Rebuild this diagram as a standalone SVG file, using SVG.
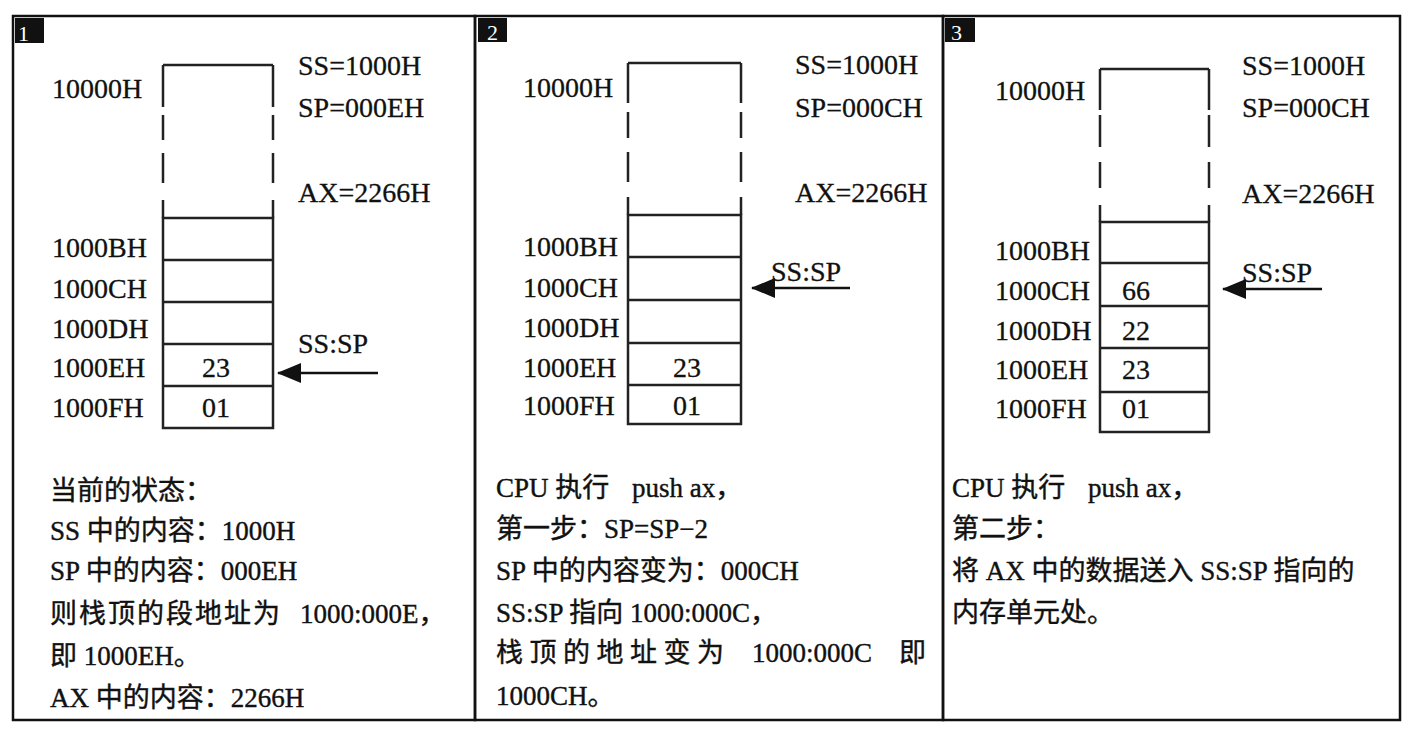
<svg xmlns="http://www.w3.org/2000/svg" width="1412" height="734" viewBox="0 0 1412 734">
<defs>
<style>
.frame{fill:none;stroke:#111;stroke-width:2.5}
.badge{fill:#111}
.bnum{font-family:"Liberation Serif",serif;font-size:22px;fill:#fff}
.cell{fill:none;stroke:#222;stroke-width:2.5}
.lbl{font-family:"Liberation Serif","Noto Sans CJK SC",serif;font-size:28px;fill:#111;stroke:#111;stroke-width:0.3}
.val{font-family:"Liberation Serif",serif;font-size:28px;fill:#111;stroke:#111;stroke-width:0.3}
.mid{text-anchor:middle}
.txt{font-family:"Liberation Serif","Noto Sans CJK SC",serif;font-size:27px;fill:#111;stroke:#111;stroke-width:0.4}
.arr{stroke:#111;stroke-width:2.5;fill:none}
</style>
<marker id="ahb" viewBox="0 0 24 20" refX="23" refY="10" markerWidth="24" markerHeight="20" markerUnits="userSpaceOnUse" orient="auto">
<path d="M0,0 L24,10 L0,20 z" fill="#111"/>
</marker>
</defs>
<rect width="1412" height="734" fill="#fff"/>

<g id="panel1">
<rect class="frame" x="13" y="16" width="462" height="704"/>
<rect class="badge" x="15" y="18" width="29" height="25"/>
<text class="bnum" x="18" y="41">1</text>
<path class="cell" d="M163,65 H273 M163,65 V107 M163,115 V140 M163,153 V183 M163,200 V218 M273,65 V107 M273,115 V140 M273,153 V183 M273,200 V218"/>
<rect class="cell" x="163" y="218" width="110" height="210"/>
<path class="cell" d="M163,260 H273 M163,302 H273 M163,344 H273 M163,386 H273"/>
<text class="lbl" x="52" y="98">10000H</text>
<text class="lbl" x="298" y="75">SS=1000H</text>
<text class="lbl" x="298" y="117">SP=000EH</text>
<text class="lbl" x="298" y="202">AX=2266H</text>
<text class="lbl" x="52" y="257">1000BH</text>
<text class="lbl" x="52" y="298">1000CH</text>
<text class="lbl" x="52" y="338">1000DH</text>
<text class="lbl" x="52" y="377">1000EH</text>
<text class="lbl" x="52" y="417">1000FH</text>
<text class="val mid" x="216" y="377">23</text>
<text class="val mid" x="216" y="417">01</text>
<text class="lbl" x="298" y="353">SS:SP</text>
<text class="txt" x="50" y="500">当前的状态：</text>
<text class="txt" x="50" y="540">SS 中的内容：1000H</text>
<text class="txt" x="50" y="580">SP 中的内容：000EH</text>
<text class="txt" x="50" y="623" letter-spacing="2">则栈顶的段地址为</text>
<text class="txt" x="300" y="623">1000:000E，</text>
<text class="txt" x="50" y="665">即 1000EH。</text>
<text class="txt" x="50" y="707">AX 中的内容：2266H</text>
</g>

<g id="panel2">
<rect class="frame" x="475" y="16" width="468" height="704"/>
<rect class="badge" x="478" y="18" width="29" height="24"/>
<text class="bnum" x="487" y="40">2</text>
<path class="cell" d="M628,63 H741 M628,63 V103 M628,112 V138 M628,152 V182 M628,197 V215 M741,63 V103 M741,112 V138 M741,152 V182 M741,197 V215"/>
<rect class="cell" x="628" y="215" width="113" height="209"/>
<path class="cell" d="M628,257 H741 M628,300 H741 M628,343 H741 M628,385 H741"/>
<text class="lbl" x="523" y="97">10000H</text>
<text class="lbl" x="795" y="74">SS=1000H</text>
<text class="lbl" x="795" y="117">SP=000CH</text>
<text class="lbl" x="795" y="202">AX=2266H</text>
<text class="lbl" x="523" y="256">1000BH</text>
<text class="lbl" x="523" y="297">1000CH</text>
<text class="lbl" x="523" y="337">1000DH</text>
<text class="lbl" x="523" y="377">1000EH</text>
<text class="lbl" x="523" y="415">1000FH</text>
<text class="val mid" x="687" y="377">23</text>
<text class="val mid" x="687" y="415">01</text>
<text class="lbl" x="771" y="281">SS:SP</text>
<text class="txt" x="496" y="497">CPU 执行 <tspan x="632">push ax，</tspan></text>
<text class="txt" x="496" y="538">第一步：SP=SP−2</text>
<text class="txt" x="496" y="580">SP 中的内容变为：000CH</text>
<text class="txt" x="496" y="622">SS:SP 指向 1000:000C，</text>
<text class="txt" x="496" y="662" letter-spacing="6.5">栈顶的地址变为</text>
<text class="txt" x="752" y="662">1000:000C</text>
<text class="txt" x="899" y="662">即</text>
<text class="txt" x="496" y="705">1000CH。</text>
</g>

<g id="panel3">
<rect class="frame" x="943" y="16" width="457" height="704"/>
<rect class="badge" x="945" y="18" width="30" height="24"/>
<text class="bnum" x="951" y="40">3</text>
<path class="cell" d="M1100,69 H1209 M1100,69 V110 M1100,115 V147 M1100,162 V188 M1100,205 V222 M1209,69 V110 M1209,115 V147 M1209,162 V188 M1209,205 V222"/>
<rect class="cell" x="1100" y="222" width="109" height="210"/>
<path class="cell" d="M1100,263 H1209 M1100,306 H1209 M1100,348 H1209 M1100,392 H1209"/>
<text class="lbl" x="995" y="100">10000H</text>
<text class="lbl" x="1242" y="75">SS=1000H</text>
<text class="lbl" x="1242" y="117">SP=000CH</text>
<text class="lbl" x="1242" y="203">AX=2266H</text>
<text class="lbl" x="995" y="260">1000BH</text>
<text class="lbl" x="995" y="300">1000CH</text>
<text class="lbl" x="995" y="340">1000DH</text>
<text class="lbl" x="995" y="379">1000EH</text>
<text class="lbl" x="995" y="418">1000FH</text>
<text class="val" x="1122" y="300">66</text>
<text class="val" x="1122" y="340">22</text>
<text class="val" x="1122" y="379">23</text>
<text class="val" x="1122" y="418">01</text>
<text class="lbl" x="1242" y="282">SS:SP</text>
<text class="txt" x="952" y="497">CPU 执行 <tspan x="1088">push ax，</tspan></text>
<text class="txt" x="952" y="538">第二步：</text>
<text class="txt" x="952" y="580">将 AX 中的数据送入 SS:SP 指向的</text>
<text class="txt" x="952" y="622">内存单元处。</text>
</g>

<g id="connectors">
<line class="arr" x1="378" y1="373" x2="278" y2="373" marker-end="url(#ahb)"/>
<line class="arr" x1="850" y1="288" x2="752" y2="288" marker-end="url(#ahb)"/>
<line class="arr" x1="1322" y1="289" x2="1223" y2="289" marker-end="url(#ahb)"/>
</g>
</svg>
